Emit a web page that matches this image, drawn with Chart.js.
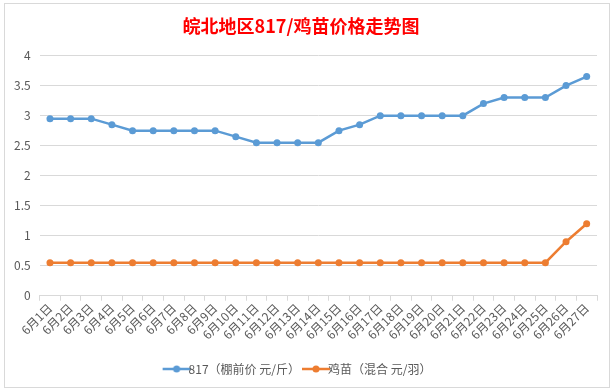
<!DOCTYPE html>
<html>
<head>
<meta charset="utf-8">
<script src="https://cdn.jsdelivr.net/npm/chart.js@4"></script>
<style>
  html, body { margin: 0; padding: 0; background: #fff; }
  body { width: 615px; height: 391px; position: relative; overflow: hidden; }
  #box { position: absolute; left: 4px; top: 3px; width: 606px; height: 385px; border: 1px solid #d9d9d9; box-sizing: border-box; }
  canvas { display: block; }
</style>
</head>
<body>
<div id="box"><canvas id="c"></canvas></div>
<script>
const categories = ['6月1日','6月2日','6月3日','6月4日','6月5日','6月6日','6月7日','6月8日','6月9日','6月10日',
  '6月11日','6月12日','6月13日','6月14日','6月15日','6月16日','6月17日','6月18日','6月19日','6月20日',
  '6月21日','6月22日','6月23日','6月24日','6月25日','6月26日','6月27日'];
const price817 = [2.95,2.95,2.95,2.85,2.75,2.75,2.75,2.75,2.75,2.65,2.55,2.55,2.55,2.55,2.75,2.85,3.0,3.0,3.0,3.0,3.0,3.2,3.3,3.3,3.3,3.5,3.65];
const chickPrice = [0.55,0.55,0.55,0.55,0.55,0.55,0.55,0.55,0.55,0.55,0.55,0.55,0.55,0.55,0.55,0.55,0.55,0.55,0.55,0.55,0.55,0.55,0.55,0.55,0.55,0.9,1.2];
const seriesNames = ['817（棚前价 元/斤）','鸡苗（混合 元/羽）'];
const titleText = '皖北地区817/鸡苗价格走势图';

const FONT = "'Noto Sans CJK SC', 'Noto Sans', sans-serif";
const blue = '#5B9BD5', orange = '#ED7D31', grey = '#595959';

function legendIcon(color) {
  const cv = document.createElement('canvas');
  cv.width = 30; cv.height = 10;
  const g = cv.getContext('2d');
  g.strokeStyle = color; g.lineWidth = 2.5;
  g.beginPath(); g.moveTo(1, 5); g.lineTo(29, 5); g.stroke();
  g.fillStyle = color;
  g.beginPath(); g.arc(15, 5, 3.5, 0, Math.PI * 2); g.fill();
  return cv;
}

new Chart(document.getElementById('c'), {
  type: 'line',
  data: {
    labels: categories,
    datasets: [
      { label: seriesNames[0], data: price817, borderColor: blue, backgroundColor: blue,
        borderWidth: 2.5, pointRadius: 3.5, pointBorderWidth: 0, tension: 0 },
      { label: seriesNames[1], data: chickPrice, borderColor: orange, backgroundColor: orange,
        borderWidth: 2.5, pointRadius: 3.5, pointBorderWidth: 0, tension: 0 }
    ]
  },
  options: {
    responsive: true,
    maintainAspectRatio: false,
    animation: false,
    layout: { padding: { left: 0, right: 12, top: 0, bottom: 2 } },
    plugins: {
      title: {
        display: true, text: titleText, color: '#FF0000',
        font: { family: FONT, size: 18, weight: 'bold' },
        padding: { top: 11, bottom: 19 }
      },
      legend: {
        position: 'bottom',
        labels: {
          color: grey, font: { family: FONT, size: 12 },
          usePointStyle: true, boxWidth: 30, boxHeight: 10, padding: 10,
          generateLabels(chart) {
            return chart.data.datasets.map((ds, i) => ({
              text: ds.label, fillStyle: ds.borderColor, strokeStyle: ds.borderColor,
              pointStyle: legendIcon(ds.borderColor), datasetIndex: i, hidden: false,
              fontColor: grey, lineWidth: 0
            }));
          }
        }
      },
      tooltip: { enabled: false }
    },
    scales: {
      x: {
        offset: true,
        afterFit(scale) { scale.height += 11; },
        grid: { display: true, offset: true, drawOnChartArea: false, drawTicks: true, tickLength: 5, color: '#d9d9d9' },
        border: { display: true, color: '#d9d9d9' },
        ticks: { color: grey, font: { family: FONT, size: 12 }, maxRotation: 45, minRotation: 45, autoSkip: false, padding: 0 }
      },
      y: {
        min: 0, max: 4,
        ticks: { stepSize: 0.5, color: grey, font: { family: FONT, size: 12 }, padding: 9,
          callback: v => String(v) },
        grid: { color: '#d9d9d9', drawTicks: false },
        border: { display: false }
      }
    }
  }
});
</script>
</body>
</html>
